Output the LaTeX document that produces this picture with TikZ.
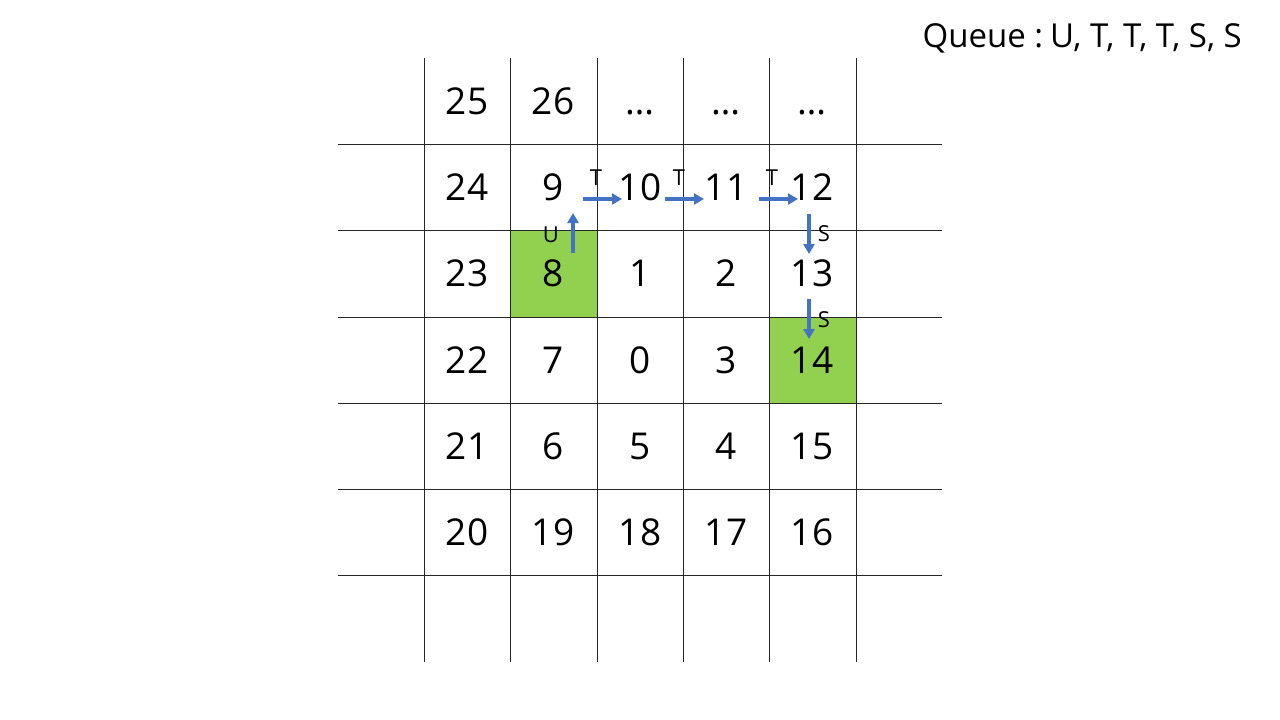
\documentclass[tikz,border=0pt]{standalone}
\usepackage{fontspec}
\setmainfont{Open Sans}
\usetikzlibrary{arrows.meta}
\definecolor{arrblue}{HTML}{4472C4}
\definecolor{cellgreen}{HTML}{92D050}
\begin{document}
\begin{tikzpicture}[x=1pt,y=-1pt,
  num/.style={font=\fontsize{37}{40}\selectfont, inner sep=0pt, anchor=center},
  lab/.style={font=\fontsize{22}{24}\selectfont, inner sep=0pt, anchor=center},
  gridline/.style={draw=black!85, line width=1pt},
  mv/.style={draw=arrblue, line width=3.5pt, -{Triangle[length=10pt,width=11pt]}},
  greencell/.style={fill=cellgreen}]
\useasboundingbox (0,0) rectangle (1280,720);
\fill[white] (0,0) rectangle (1280,720);
% green cells
\fill[greencell] (510,230) rectangle (597,317);
\fill[greencell] (769,317) rectangle (856,403);
% grid
\foreach \x in {424,510,597,683,769,856} \draw[gridline] (\x,58) -- (\x,662);
\foreach \y in {144,230,317,403,489,575} \draw[gridline] (338,\y) -- (942,\y);
% numbers
\node[num] (n25) at (467,101) {25};
\node[num] (n26) at (553,101) {26};
\node[num] (d1) at (640,101) {\vphantom{0}…};
\node[num] (d2) at (726,101) {\vphantom{0}…};
\node[num] (d3) at (812,101) {\vphantom{0}…};
\node[num] (n24) at (467,187) {24};
\node[num] (n9) at (553,187) {9};
\node[num] (n10) at (640,187) {10};
\node[num] (n11) at (726,187) {11};
\node[num] (n12) at (812,187) {12};
\node[num] (n23) at (467,273) {23};
\node[num] (n8) at (553,273) {8};
\node[num] (n1) at (640,273) {1};
\node[num] (n2) at (726,273) {2};
\node[num] (n13) at (812,273) {13};
\node[num] (n22) at (467,360) {22};
\node[num] (n7) at (553,360) {7};
\node[num] (n0) at (640,360) {0};
\node[num] (n3) at (726,360) {3};
\node[num] (n14) at (812,360) {14};
\node[num] (n21) at (467,446) {21};
\node[num] (n6) at (553,446) {6};
\node[num] (n5) at (640,446) {5};
\node[num] (n4) at (726,446) {4};
\node[num] (n15) at (812,446) {15};
\node[num] (n20) at (467,532) {20};
\node[num] (n19) at (553,532) {19};
\node[num] (n18) at (640,532) {18};
\node[num] (n17) at (726,532) {17};
\node[num] (n16) at (812,532) {16};
% queue
\node[font=\fontsize{33}{35}\selectfont, inner sep=0pt, anchor=east] (queue) at (1242,38) {Queue :\kern-0.05em\ U, T, T, T, S, S};
% move arrows
\coordinate (u1) at (573,253); \coordinate (u2) at (573,213);
\coordinate (t1a) at (583,199); \coordinate (t1b) at (622,199);
\coordinate (t2a) at (665,199); \coordinate (t2b) at (704,199);
\coordinate (t3a) at (759,199); \coordinate (t3b) at (798,199);
\coordinate (s1a) at (809,214); \coordinate (s1b) at (809,254);
\coordinate (s2a) at (809,299); \coordinate (s2b) at (809,339);
\draw[mv] (u1) -- (u2);
\draw[mv] (t1a) -- (t1b);
\draw[mv] (t2a) -- (t2b);
\draw[mv] (t3a) -- (t3b);
\draw[mv] (s1a) -- (s1b);
\draw[mv] (s2a) -- (s2b);
\node[lab] (lu) at (551,235) {U};
\node[lab] (lt1) at (596,178) {T};
\node[lab] (lt2) at (679,178) {T};
\node[lab] (lt3) at (772,178) {T};
\node[lab] (ls1) at (824,234) {S};
\node[lab] (ls2) at (824,320) {S};
\end{tikzpicture}
\end{document}
